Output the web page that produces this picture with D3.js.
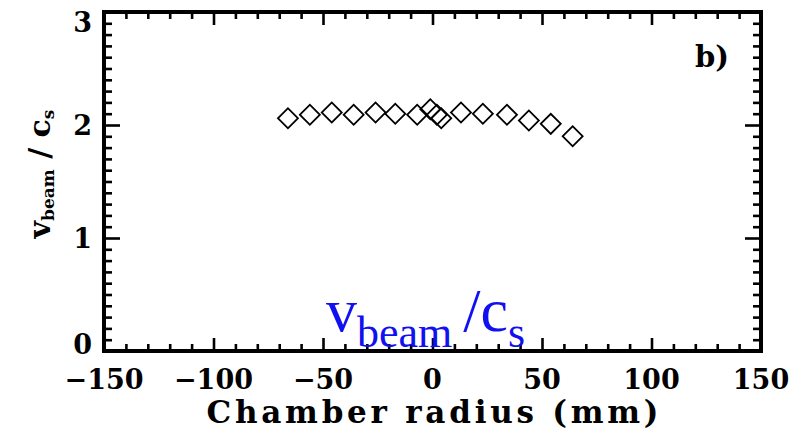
<!DOCTYPE html>
<html>
<head>
<meta charset="utf-8">
<script src="https://cdn.jsdelivr.net/npm/d3@7"></script>
<style>
  html, body { margin: 0; padding: 0; background: #fff; }
  svg { display: block; }
</style>
</head>
<body>
<svg id="chart" width="797" height="440"></svg>
<script>
// Beam velocity normalised to the sound speed across the chamber radius
const radius = [-66, -56, -46, -36, -26, -17, -7, -1, 2, 4, 13, 23, 34, 44, 54, 64];
const vBeam  = [2.06, 2.09, 2.11, 2.09, 2.11, 2.10, 2.09, 2.14, 2.09, 2.06, 2.11, 2.10, 2.09, 2.04, 2.01, 1.90];

const xTicks = [-150, -100, -50, 0, 50, 100, 150];
const yTicks = [0, 1, 2, 3];
const xDomain = [-150, 150];
const yDomain = [0, 3];
const panelLabel = "b)";
const xTitle = "Chamber radius (mm)";

const W = 797, H = 440;
const margin = { left: 104, right: 36, top: 12, bottom: 89 };
const iw = W - margin.left - margin.right;
const ih = H - margin.top - margin.bottom;

const AXIS_FONT = '"DejaVu Serif"';
const ANN_FONT = '"Liberation Serif"';

const svg = d3.select("#chart");
const g = svg.append("g").attr("transform", `translate(${margin.left},${margin.top})`);

const x = d3.scaleLinear().domain(xDomain).range([0, iw]);
const y = d3.scaleLinear().domain(yDomain).range([ih, 0]);

const xMinor = d3.range(xDomain[0], xDomain[1] + 0.001, 10).filter(v => !xTicks.includes(v));
const yMinor = d3.range(0, 31).map(i => i / 10).filter(v => !yTicks.some(t => Math.abs(t - v) < 1e-9));

// inward ticks on all four sides
function tickAxis(axisFn, scale, values, size, transform) {
  const a = axisFn(scale).tickValues(values).tickSize(-size).tickFormat("");
  const sel = g.append("g").attr("transform", transform).call(a);
  sel.select(".domain").remove();
  sel.selectAll("line").attr("stroke", "#000").attr("stroke-width", 2.6);
  return sel;
}
tickAxis(d3.axisBottom, x, xTicks, 13, `translate(0,${ih})`);
tickAxis(d3.axisBottom, x, xMinor, 7, `translate(0,${ih})`);
tickAxis(d3.axisTop, x, xTicks, 13, "translate(0,0)");
tickAxis(d3.axisTop, x, xMinor, 7, "translate(0,0)");
tickAxis(d3.axisLeft, y, yTicks, 16, "translate(0,0)");
tickAxis(d3.axisLeft, y, yMinor, 8, "translate(0,0)");
tickAxis(d3.axisRight, y, yTicks, 16, `translate(${iw},0)`);
tickAxis(d3.axisRight, y, yMinor, 8, `translate(${iw},0)`);

// frame
g.append("rect")
  .attr("x", 0).attr("y", 0).attr("width", iw).attr("height", ih)
  .attr("fill", "none").attr("stroke", "#000").attr("stroke-width", 4);

// tick labels
const fmt = v => (v < 0 ? "\u2212" + Math.abs(v) : String(v));
g.append("g").selectAll("text").data(xTicks).join("text")
  .style("font-family", AXIS_FONT).style("font-weight", "bold")
  .attr("x", d => x(d)).attr("y", ih + 38)
  .attr("text-anchor", "middle")
  .attr("font-size", 27)
  .text(fmt);

g.append("g").selectAll("text").data(yTicks).join("text")
  .style("font-family", AXIS_FONT).style("font-weight", "bold")
  .attr("x", -12)
  .attr("y", d => Math.min(Math.max(y(d), 10), ih - 7))
  .attr("dy", "0.36em")
  .attr("text-anchor", "end")
  .attr("font-size", 27)
  .text(d => d);

// axis titles
svg.append("text")
  .style("font-family", AXIS_FONT).style("font-weight", "bold")
  .attr("x", margin.left + x(0)).attr("y", 423)
  .attr("text-anchor", "middle")
  .attr("font-size", 31)
  .attr("textLength", 452)
  .attr("lengthAdjust", "spacing")
  .text(xTitle);

const yt = svg.append("text")
  .style("font-family", AXIS_FONT).style("font-weight", "bold")
  .attr("transform", `translate(50,${margin.top + 162}) rotate(-90)`)
  .attr("text-anchor", "middle")
  .attr("font-size", 30);
yt.append("tspan").style("font-family", AXIS_FONT).text("v");
yt.append("tspan").style("font-family", AXIS_FONT).attr("font-size", 17).attr("dy", 4).text("beam");
yt.append("tspan").style("font-family", AXIS_FONT).attr("dy", -4).text(" / c");
yt.append("tspan").style("font-family", AXIS_FONT).attr("font-size", 17).attr("dy", 4).text("s");

// panel label
g.append("text")
  .style("font-family", AXIS_FONT).style("font-weight", "bold")
  .attr("x", iw - 66).attr("y", 55)
  .attr("font-size", 29)
  .text(panelLabel);

// data markers: open diamonds
const pts = radius.map((r, i) => ({ r, v: vBeam[i] }));
g.append("g").selectAll("path").data(pts).join("path")
  .attr("transform", d => `translate(${x(d.r)},${y(d.v)}) rotate(45)`)
  .attr("d", d3.symbol().type(d3.symbolSquare).size(200)())
  .attr("fill", "none")
  .attr("stroke", "#000")
  .attr("stroke-width", 1.8);

// blue annotation: main letters and subscripts as separate tspans
const annParts = [
  { t: "v", size: 62, dy: 0 },
  { t: "beam ", size: 44, dy: 16 },
  { t: "/c", size: 62, dy: -16 },
  { t: "s", size: 44, dy: 16 }
];
const ann = svg.append("text")
  .attr("x", 326).attr("y", 331)
  .attr("fill", "#1010f0")
  .style("font-family", ANN_FONT)
  .style("font-size", "62px");
ann.selectAll("tspan").data(annParts).join("tspan")
  .style("font-family", ANN_FONT)
  .style("font-size", d => d.size + "px")
  .attr("dy", d => d.dy)
  .text(d => d.t);
</script>
</body>
</html>
